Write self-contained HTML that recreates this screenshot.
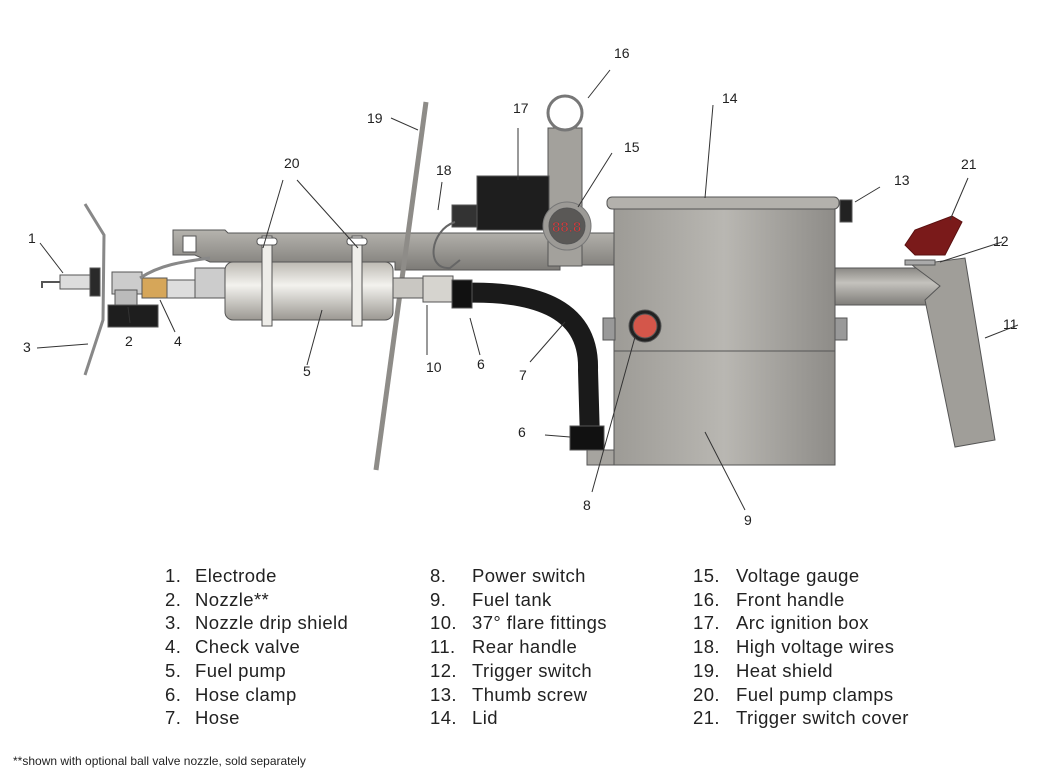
<!DOCTYPE html>
<html><head><meta charset="utf-8"><style>
body{margin:0;background:#fff;}
svg{display:block;}
text{font-family:"Liberation Sans",sans-serif;fill:#222;}
.n{font-size:14px;}
.l{font-size:18.5px;letter-spacing:0.4px;}
</style></head><body>
<svg width="1050" height="779" viewBox="0 0 1050 779">
<defs>
<linearGradient id="met" x1="0" y1="0" x2="0" y2="1"><stop offset="0" stop-color="#b5b3ae"/><stop offset="0.5" stop-color="#9a9893"/><stop offset="1" stop-color="#7d7b77"/></linearGradient>
<linearGradient id="pump" x1="0" y1="0" x2="0" y2="1"><stop offset="0" stop-color="#bdbab3"/><stop offset="0.4" stop-color="#f3f2ee"/><stop offset="1" stop-color="#9b9892"/></linearGradient>
<linearGradient id="tank" x1="0" y1="0" x2="1" y2="0"><stop offset="0" stop-color="#9d9b96"/><stop offset="0.5" stop-color="#b9b7b2"/><stop offset="1" stop-color="#8e8c88"/></linearGradient>
<linearGradient id="tube" x1="0" y1="0" x2="0" y2="1"><stop offset="0" stop-color="#8a8884"/><stop offset="0.4" stop-color="#c4c2bd"/><stop offset="1" stop-color="#7f7d79"/></linearGradient>
</defs>
<g stroke="#555" stroke-width="1">
<polygon points="173,230 225,230 228,233 615,233 615,265 560,265 560,270 395,270 395,262 210,262 195,255 173,255" fill="url(#met)"/>
<rect x="183" y="236" width="13" height="16" fill="#fff"/>
<rect x="548" y="128" width="34" height="138" fill="#a3a19c"/>
<circle cx="565" cy="113" r="17" fill="#fff" stroke="#777" stroke-width="3"/>
<rect x="477" y="176" width="72" height="54" fill="#1e1e1e"/>
<rect x="452" y="205" width="25" height="22" fill="#333"/>
<path d="M455,222 C430,230 425,270 450,268 L460,260" fill="none" stroke="#666" stroke-width="2"/>
<circle cx="567" cy="226" r="24" fill="#9c9a96" stroke="#777"/>
<circle cx="567" cy="226" r="18" fill="#5a5856"/>
<text x="552" y="232" style="font-size:15px;fill:#e33;font-weight:bold">88.8</text>
<line x1="426" y1="102" x2="376" y2="470" stroke="#8e8c88" stroke-width="5"/>
<rect x="195" y="268" width="30" height="30" fill="#ccc"/>
<rect x="225" y="262" width="168" height="58" rx="8" fill="url(#pump)"/>
<rect x="393" y="278" width="30" height="20" fill="#c9c7c2"/>
<rect x="423" y="276" width="30" height="26" fill="#d6d4cf"/>
<rect x="262" y="236" width="10" height="90" fill="#eeede9"/>
<rect x="352" y="236" width="10" height="90" fill="#eeede9"/>
<rect x="257" y="238" width="20" height="7" rx="3" fill="#fff"/>
<rect x="347" y="238" width="20" height="7" rx="3" fill="#fff"/>
<path d="M458,293 C530,290 590,305 588,370 L590,440" fill="none" stroke="#1a1a1a" stroke-width="20"/>
<rect x="452" y="280" width="20" height="28" fill="#111"/>
<rect x="570" y="426" width="34" height="24" fill="#111"/>
<polyline points="85,204 104,235 103,320 85,375" fill="none" stroke="#888" stroke-width="3"/>
<path d="M42,288 L42,282 L60,282" fill="none" stroke="#555" stroke-width="2"/>
<rect x="60" y="275" width="30" height="14" fill="#ddd"/>
<rect x="90" y="268" width="10" height="28" fill="#2a2a2a"/>
<rect x="112" y="272" width="30" height="22" fill="#ccc"/>
<rect x="115" y="290" width="22" height="15" fill="#bbb"/>
<rect x="108" y="305" width="50" height="22" fill="#1e1e1e"/>
<rect x="142" y="278" width="25" height="20" fill="#d6a659"/>
<rect x="167" y="280" width="28" height="18" fill="#ddd"/>
<path d="M140,278 C160,265 180,262 210,258" fill="none" stroke="#888" stroke-width="3"/>
<rect x="614" y="205" width="221" height="146" fill="url(#tank)"/>
<rect x="607" y="197" width="232" height="12" rx="5" fill="#b3b1ac"/>
<rect x="614" y="351" width="221" height="114" fill="url(#tank)"/>
<rect x="587" y="450" width="27" height="15" fill="#a6a49f"/>
<rect x="603" y="318" width="12" height="22" fill="#999"/>
<rect x="835" y="318" width="12" height="22" fill="#999"/>
<rect x="840" y="200" width="12" height="22" fill="#222"/>
<circle cx="645" cy="326" r="16" fill="#222"/>
<circle cx="645" cy="326" r="12" fill="#d4564a"/>
<polygon points="835,268 930,268 940,286 930,305 835,305" fill="url(#tube)"/>
<polygon points="912,265 965,258 995,440 955,447 925,300 940,286" fill="#a09e99"/>
<polygon points="905,245 915,230 952,216 962,222 945,255 915,255" fill="#7a1a1a" stroke="#5a1010"/>
<rect x="905" y="260" width="30" height="5" fill="#aaa"/>
</g>
<g stroke="#333" stroke-width="1" fill="none">
<path d="M40,243 L63,273 M37,348 L88,344 M130,323 L128,307 M175,332 L160,300 M307,365 L322,310 M283,180 L263,248 M297,180 L358,248 M391,118 L418,130 M442,182 L438,210 M427,355 L427,305 M480,355 L470,318 M530,362 L565,322 M545,435 L570,437 M518,128 L518,180 M588,98 L610,70 M612,153 L578,207 M713,105 L705,198 M855,202 L880,187 M968,178 L950,220 M1002,242 L940,262 M985,338 L1018,325 M592,492 L635,337 M745,510 L705,432"/>
</g>
<g class="n">
<text x="28" y="243">1</text><text x="125" y="346">2</text><text x="23" y="352">3</text><text x="174" y="346">4</text>
<text x="303" y="376">5</text><text x="477" y="369">6</text><text x="518" y="437">6</text><text x="519" y="380">7</text>
<text x="583" y="510">8</text><text x="744" y="525">9</text><text x="426" y="372">10</text><text x="1003" y="329">11</text>
<text x="993" y="246">12</text><text x="894" y="185">13</text><text x="722" y="103">14</text><text x="624" y="152">15</text>
<text x="614" y="58">16</text><text x="513" y="113">17</text><text x="436" y="175">18</text><text x="367" y="123">19</text>
<text x="284" y="168">20</text><text x="961" y="169">21</text>
</g>
<g class="l">
<text x="165" y="582">1.</text><text x="195" y="582">Electrode</text>
<text x="165" y="606">2.</text><text x="195" y="606">Nozzle**</text>
<text x="165" y="629">3.</text><text x="195" y="629">Nozzle drip shield</text>
<text x="165" y="653">4.</text><text x="195" y="653">Check valve</text>
<text x="165" y="677">5.</text><text x="195" y="677">Fuel pump</text>
<text x="165" y="701">6.</text><text x="195" y="701">Hose clamp</text>
<text x="165" y="724">7.</text><text x="195" y="724">Hose</text>
<text x="430" y="582">8.</text><text x="472" y="582">Power switch</text>
<text x="430" y="606">9.</text><text x="472" y="606">Fuel tank</text>
<text x="430" y="629">10.</text><text x="472" y="629">37° flare fittings</text>
<text x="430" y="653">11.</text><text x="472" y="653">Rear handle</text>
<text x="430" y="677">12.</text><text x="472" y="677">Trigger switch</text>
<text x="430" y="701">13.</text><text x="472" y="701">Thumb screw</text>
<text x="430" y="724">14.</text><text x="472" y="724">Lid</text>
<text x="693" y="582">15.</text><text x="736" y="582">Voltage gauge</text>
<text x="693" y="606">16.</text><text x="736" y="606">Front handle</text>
<text x="693" y="629">17.</text><text x="736" y="629">Arc ignition box</text>
<text x="693" y="653">18.</text><text x="736" y="653">High voltage wires</text>
<text x="693" y="677">19.</text><text x="736" y="677">Heat shield</text>
<text x="693" y="701">20.</text><text x="736" y="701">Fuel pump clamps</text>
<text x="693" y="724">21.</text><text x="736" y="724">Trigger switch cover</text>
</g>
<text x="13" y="765" style="font-size:12px">**shown with optional ball valve nozzle, sold separately</text>
</svg>
</body></html>
